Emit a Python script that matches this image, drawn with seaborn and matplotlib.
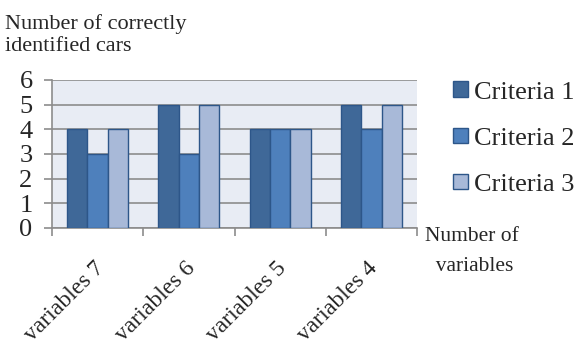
#import modules
import pandas as pd
import seaborn as sns
import matplotlib.pyplot as plt
from matplotlib.transforms import ScaledTranslation

#chart data
categories = ["variables 7", "variables 6", "variables 5", "variables 4"]
series_names = ["Criteria 1", "Criteria 2", "Criteria 3"]
criteria_1 = [4, 5, 4, 5]
criteria_2 = [3, 3, 4, 4]
criteria_3 = [4, 5, 4, 5]
y_ticks = [0, 1, 2, 3, 4, 5, 6]

#build long table for seaborn
df = pd.DataFrame({
    "category": categories * 3,
    "series": [series_names[0]] * 4 + [series_names[1]] * 4 + [series_names[2]] * 4,
    "value": criteria_1 + criteria_2 + criteria_3,
})

sns.set_theme(style="white")
plt.rcParams["font.family"] = ["Liberation Serif", "DejaVu Serif"]

fig = plt.figure(figsize=(5.84, 3.5), dpi=100)
ax = fig.add_axes([52 / 584, 1 - 228 / 350, 365 / 584, 148 / 350])
ax.set_facecolor("#E8ECF4")

colors = ["#3F6898", "#4E80BC", "#A8B9D8"]
sns.barplot(data=df, x="category", y="value", hue="series", palette=colors,
            width=0.67, edgecolor="#2D5689", linewidth=1, saturation=1, ax=ax, zorder=3)

#grid and axes
ax.set_ylim(0, 6)
ax.set_xlim(-0.5, 3.5)
ax.set_yticks(y_ticks)
ax.yaxis.grid(True, color="#8C8C8C", linewidth=1.2, zorder=0)
ax.set_axisbelow(True)
for side in ["top", "right"]:
    ax.spines[side].set_visible(False)
for side in ["left", "bottom"]:
    ax.spines[side].set_color("#8C8C8C")
    ax.spines[side].set_linewidth(1.2)

ax.tick_params(axis="y", left=True, length=6, width=1.2, color="#8C8C8C", pad=8, labelsize=19)
ax.set_xticks([-0.5, 0.5, 1.5, 2.5, 3.5], minor=True)
ax.tick_params(axis="x", which="minor", bottom=True, length=6, width=1.2, color="#8C8C8C")
ax.tick_params(axis="x", which="major", bottom=False, length=0, pad=27, labelsize=17)
shift = ScaledTranslation(0.03, 0, fig.dpi_scale_trans)
for lbl in ax.get_xticklabels():
    lbl.set_rotation(45)
    lbl.set_ha("right")
    lbl.set_va("center")
    lbl.set_rotation_mode("anchor")
    lbl.set_transform(lbl.get_transform() + shift)

ax.set_xlabel("")
ax.set_ylabel("")

#legend
ax.legend(loc="upper left", bbox_to_anchor=(1.099, 0.99), frameon=False, fontsize=19,
          borderaxespad=0, borderpad=0, labelspacing=0.9, handlelength=0.55,
          handleheight=0.55, handletextpad=0.25)

#axis titles
fig.text(5 / 584, 1 - 14 / 350, "Number of correctly\nidentified cars", fontsize=16,
         ha="left", va="top", linespacing=1.2)
fig.text(425 / 584, 1 - 227 / 350, "Number of\n  variables", fontsize=15.5,
         ha="left", va="top", linespacing=1.8)

plt.savefig("out.png", dpi=100)
plt.close()
